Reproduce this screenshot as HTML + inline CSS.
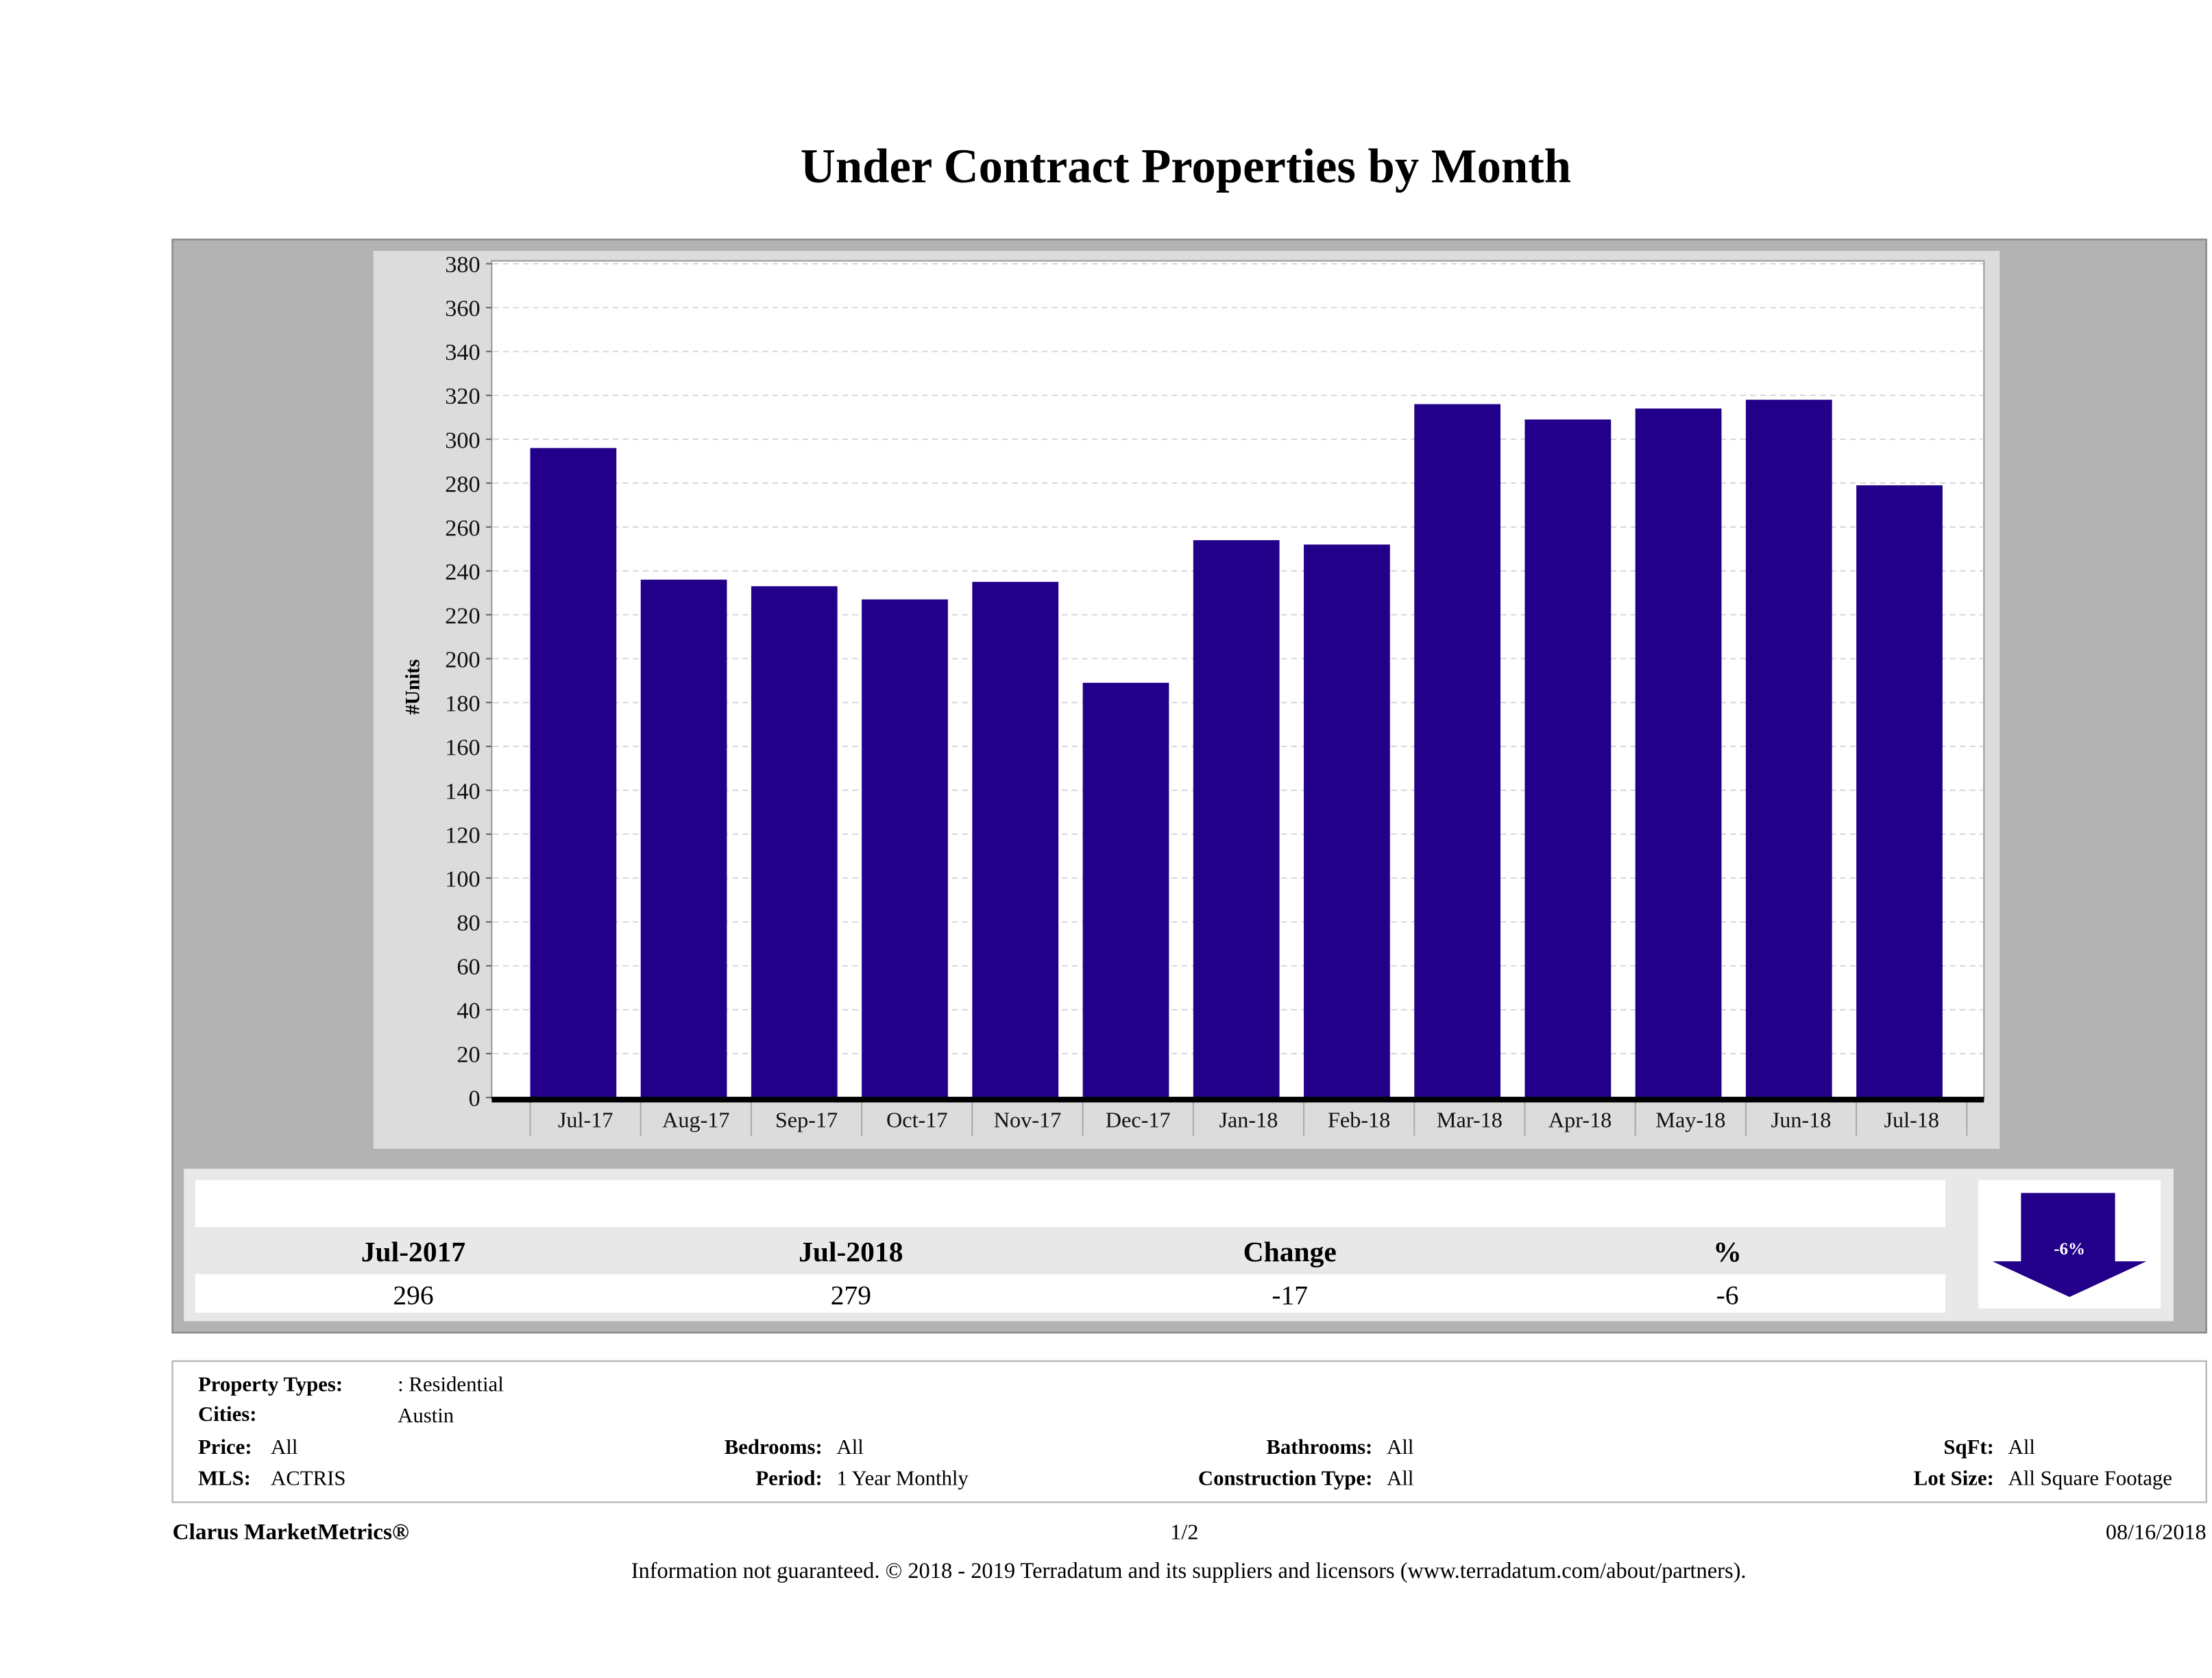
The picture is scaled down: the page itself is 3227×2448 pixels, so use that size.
<!DOCTYPE html>
<html><head><meta charset="utf-8"><style>
html,body{margin:0;padding:0;background:#fff;}
svg{display:block;}
text{font-family:"Liberation Serif",serif;}
</style></head><body>
<svg id="root" width="3227" height="2448" viewBox="0 0 1552 1177.3" xmlns="http://www.w3.org/2000/svg">
<rect x="0" y="0" width="1552" height="1177.3" fill="#fff"/>
<text x="832" y="128" text-anchor="middle" font-size="34" font-weight="bold" fill="#000">Under Contract Properties by Month</text>
<rect x="121" y="168" width="1427" height="767" fill="#b3b3b3" stroke="#8a8a8a" stroke-width="1.2"/>
<rect x="262" y="176" width="1141" height="630" fill="#dcdcdc"/>
<rect x="345" y="183" width="1047" height="588" fill="#fff" stroke="#999" stroke-width="1"/>
<g id="grid"></g>
<g id="bars"></g>
<g id="xaxis"></g>
<text transform="translate(294,482) rotate(-90)" text-anchor="middle" font-size="14" font-weight="bold">#Units</text>

<rect x="129" y="820" width="1396" height="107" fill="#e8e8e8"/>
<rect x="137" y="828" width="1228" height="33" fill="#fff"/>
<rect x="137" y="894" width="1228" height="27" fill="#fff"/>
<g font-size="20" font-weight="bold" text-anchor="middle">
<text x="290" y="885">Jul-2017</text>
<text x="597" y="885">Jul-2018</text>
<text x="905" y="885">Change</text>
<text x="1212" y="885">%</text>
</g>
<g font-size="19" text-anchor="middle">
<text x="290" y="915">296</text>
<text x="597" y="915">279</text>
<text x="905" y="915">-17</text>
<text x="1212" y="915">-6</text>
</g>
<rect x="1388" y="828" width="128" height="90" fill="#fff"/>
<polygon points="1418,837 1484,837 1484,885 1506,885 1452,910 1398,885 1418,885" fill="#22008a"/>
<text x="1452" y="880" text-anchor="middle" font-size="12" font-weight="bold" fill="#fff">-6%</text>

<rect x="121" y="955" width="1427" height="99" fill="#fff" stroke="#bbb" stroke-width="1.2"/>
<g font-size="14.8">
<text x="139" y="976" font-weight="bold">Property Types:</text>
<text x="279" y="976">: Residential</text>
<text x="139" y="997" font-weight="bold">Cities:</text>
<text x="279" y="998">Austin</text>
<text x="139" y="1020" font-weight="bold">Price:</text>
<text x="190" y="1020">All</text>
<text x="139" y="1042" font-weight="bold">MLS:</text>
<text x="190" y="1042">ACTRIS</text>
<text x="577" y="1020" font-weight="bold" text-anchor="end">Bedrooms:</text>
<text x="587" y="1020">All</text>
<text x="577" y="1042" font-weight="bold" text-anchor="end">Period:</text>
<text x="587" y="1042">1 Year Monthly</text>
<text x="963" y="1020" font-weight="bold" text-anchor="end">Bathrooms:</text>
<text x="973" y="1020">All</text>
<text x="963" y="1042" font-weight="bold" text-anchor="end">Construction Type:</text>
<text x="973" y="1042">All</text>
<text x="1399" y="1020" font-weight="bold" text-anchor="end">SqFt:</text>
<text x="1409" y="1020">All</text>
<text x="1399" y="1042" font-weight="bold" text-anchor="end">Lot Size:</text>
<text x="1409" y="1042">All Square Footage</text>
</g>
<text x="121" y="1080" font-size="16" font-weight="bold">Clarus MarketMetrics®</text>
<text x="831" y="1080" font-size="15.5" text-anchor="middle">1/2</text>
<text x="1548" y="1080" font-size="15.5" text-anchor="end">08/16/2018</text>
<text x="834" y="1107" font-size="15.6" text-anchor="middle">Information not guaranteed. © 2018 - 2019 Terradatum and its suppliers and licensors (www.terradatum.com/about/partners).</text>
</svg>
<script>
const categories = ["Jul-17","Aug-17","Sep-17","Oct-17","Nov-17","Dec-17","Jan-18","Feb-18","Mar-18","Apr-18","May-18","Jun-18","Jul-18"];
const units = [296,236,233,227,235,189,254,252,316,309,314,318,279];
const yTicks = [0,20,40,60,80,100,120,140,160,180,200,220,240,260,280,300,320,340,360,380];

const NS = "http://www.w3.org/2000/svg";
const yMin = 0, yMax = 380, yTop = 185, yBot = 770;
const xStart = 372, xEnd = 1380;
function yScale(v){ return yBot - (v - yMin) / (yMax - yMin) * (yBot - yTop); }
function band(i){ return xStart + i * (xEnd - xStart) / categories.length; }
const pitch = (xEnd - xStart) / categories.length;
function mk(tag, attrs, parent){
  const e = document.createElementNS(NS, tag);
  for (const k in attrs) e.setAttribute(k, attrs[k]);
  parent.appendChild(e);
  return e;
}
const grid = document.getElementById('grid');
const bars = document.getElementById('bars');
const xaxis = document.getElementById('xaxis');
yTicks.forEach(t => {
  const y = yScale(t);
  if (t > 0) {
    const gl = mk('line', {x1:346, x2:1391, y1:y, y2:y, stroke:'#d8d8d8', 'stroke-width':1, 'stroke-dasharray':'4,3'}, grid);
    
    
  }
  const tk = mk('line', {x1:341, x2:345, y1:y, y2:y, stroke:'#666', 'stroke-width':1}, grid);
  
  
  const lb = mk('text', {x:337, y:y+6, 'text-anchor':'end', 'font-size':16.5, fill:'#111'}, grid);
  
  
  lb.textContent = t;
});
categories.forEach((c, i) => {
  const x0 = band(i);
  const y = yScale(units[i]);
  const r = mk('rect', {x:x0, y:y, width:pitch*0.78, height:yBot - y, fill:'#22008a'}, bars);
  
  
  const sep = mk('line', {x1:x0, x2:x0, y1:773, y2:797, stroke:'#aaa', 'stroke-width':1}, xaxis);
  
  
  const lb = mk('text', {x:x0 + pitch/2, y:791, 'text-anchor':'middle', 'font-size':15.5, fill:'#111'}, xaxis);
  
  
  lb.textContent = c;
});
const lastSep = mk('line', {x1:xEnd, x2:xEnd, y1:773, y2:797, stroke:'#aaa', 'stroke-width':1}, xaxis);


const ax = mk('rect', {x:345, y:769.5, width:1047, height:4, fill:'#000'}, xaxis);


</script>
</body></html>
